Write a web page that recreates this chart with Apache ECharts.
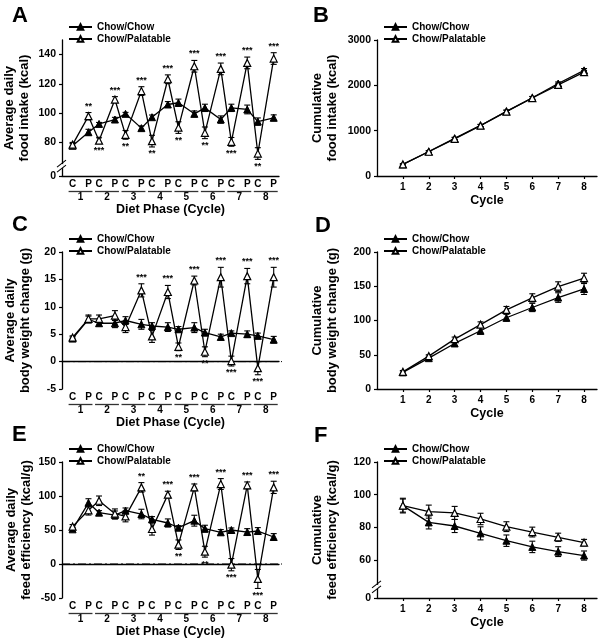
<!DOCTYPE html>
<html>
<head>
<meta charset="utf-8">
<script src="https://cdn.jsdelivr.net/npm/echarts@6/dist/echarts.min.js"></script>
<style>html,body{margin:0;padding:0;background:#fff}#c{width:602px;height:643px}</style>
</head>
<body>
<div id="c"></div>
<script>
// ---------- data ----------
const seriesNames = ['Chow/Chow', 'Chow/Palatable'];
const cycles = [1, 2, 3, 4, 5, 6, 7, 8];
const phaseLabels = ['C','P','C','P','C','P','C','P','C','P','C','P','C','P','C','P'];
const phaseCycles = [1,1,2,2,3,3,4,4,5,5,6,6,7,7,8,8];

// A: average daily food intake (kcal)
const intakeChow    = [77.5, 86.8, 92.5, 95.5, 99.4, 89.6, 97.1, 105.8, 107.0, 99.4, 103.5, 95.5, 103.5, 102.4, 94.1, 96.7];
const intakeChowErr = [1.5, 2.0, 1.0, 1.5, 1.0, 1.5, 1.5, 2.0, 2.5, 2.0, 2.5, 2.5, 2.5, 3.0, 2.5, 2.0];
const intakePal     = [78.3, 97.8, 81.0, 109.2, 85.0, 115.0, 80.7, 123.1, 90.0, 132.0, 86.4, 130.2, 80.2, 134.3, 72.2, 137.3];
const intakePalErr  = [1.5, 2.5, 2.0, 2.0, 3.0, 3.0, 4.0, 3.0, 4.0, 4.0, 4.0, 4.0, 3.0, 4.0, 4.0, 4.0];
const intakeStars   = ['', '**', '***', '***', '**', '***', '**', '***', '**', '***', '**', '***', '***', '***', '**', '***'];

// B: cumulative food intake (kcal)
const cumIntakeChow    = [255, 540, 830, 1115, 1425, 1725, 2040, 2330];
const cumIntakeChowErr = [15, 20, 25, 25, 30, 30, 35, 40];
const cumIntakePal     = [255, 535, 820, 1110, 1420, 1720, 2010, 2290];
const cumIntakePalErr  = [15, 20, 25, 25, 30, 30, 35, 40];

// C: average daily body weight change (g)
const bwChow    = [4.2, 7.7, 7.0, 7.0, 7.5, 6.8, 6.5, 6.3, 5.9, 6.2, 5.3, 4.5, 5.2, 5.0, 4.7, 4.0];
const bwChowErr = [0.3, 0.6, 0.5, 0.8, 0.7, 0.9, 0.6, 0.8, 0.5, 0.9, 0.6, 0.5, 0.4, 0.6, 0.5, 0.6];
const bwPal     = [4.4, 7.8, 7.8, 8.4, 6.3, 13.0, 4.6, 12.7, 2.7, 14.8, 1.8, 15.4, 0.1, 15.6, -1.2, 15.4];
const bwPalErr  = [0.3, 0.7, 0.7, 0.9, 1.0, 1.2, 1.1, 1.2, 0.7, 0.8, 0.9, 1.8, 0.9, 1.4, 1.2, 1.8];
const bwStars   = ['', '', '', '', '', '***', '', '***', '**', '***', '**', '***', '***', '***', '***', '***'];

// D: cumulative body weight change (g)
const cumBwChow    = [24.3, 45.0, 66.5, 85.0, 104.0, 119.0, 133.5, 146.0];
const cumBwChowErr = [2, 3, 4, 5, 5, 6, 7, 8];
const cumBwPal     = [25.0, 48.0, 72.8, 94.0, 115.5, 133.0, 149.5, 162.0];
const cumBwPalErr  = [2, 2, 3, 4, 5, 6, 7, 7];

// E: average daily feed efficiency (kcal/g)
const feChow    = [51, 90, 75.5, 72, 78.4, 73.5, 65.7, 60.3, 53.4, 63.7, 52, 46.6, 50, 47, 48.5, 39.7];
const feChowErr = [3, 6, 3, 6, 4, 7, 4, 6, 3, 8, 5, 4, 3, 5, 5, 5];
const fePal     = [55, 79, 93, 74, 70, 112.7, 51.5, 102, 28.4, 112.7, 18.1, 117.6, -1, 115.7, -22, 112.7];
const fePalErr  = [3, 7, 7, 7, 8, 7, 9, 5, 7, 5, 8, 8, 9, 5, 14, 9];
const feStars   = ['', '', '', '', '', '**', '', '***', '**', '***', '**', '***', '***', '***', '***', '***'];

// F: cumulative feed efficiency (kcal/g)
const cumFeChow    = [93.3, 83.0, 80.8, 76.3, 71.8, 68.0, 65.1, 62.7];
const cumFeChowErr = [4.5, 4, 4, 4, 3.5, 3.5, 3, 2.8];
const cumFePal     = [93.3, 89.6, 88.8, 85.1, 80.4, 77.1, 73.9, 70.6];
const cumFePalErr  = [4, 4, 4, 3.5, 3, 3, 2.5, 2];

// tick labels
const yTicksA = [80, 100, 120, 140];
const yTicksF = [60, 80, 100, 120];

// ---------- layout / style ----------
const FONT = '"Liberation Sans", Arial, Helvetica, sans-serif';
const BLACK = '#000';
const PH_OFF = 0.3;
const phaseX = phaseCycles.map((c, i) => c + (phaseLabels[i] === 'C' ? -PH_OFF : PH_OFF));

const A_MIN = 56.8, F_MIN = 36.7;
const grids = [
  {left: 62,  top: 40,  width: 217, height: 136},
  {left: 377, top: 40,  width: 220, height: 136},
  {left: 62,  top: 252, width: 217, height: 137},
  {left: 377, top: 252, width: 220, height: 137},
  {left: 62,  top: 462, width: 217, height: 136},
  {left: 377, top: 462, width: 220, height: 136}
];
const yNames = [
  'Average daily\nfood intake (kcal)',
  'Cumulative\nfood intake (kcal)',
  'Average daily\nbody weight change (g)',
  'Cumulative\nbody weight change (g)',
  'Average daily\nfeed efficiency (kcal/g)',
  'Cumulative\nfeed efficiency (kcal/g)'
];
const yCfg = [
  {min: A_MIN, max: 150, custom: [A_MIN].concat(yTicksA)},
  {min: 0, max: 3000, interval: 1000},
  {min: -5, max: 20, interval: 5},
  {min: 0, max: 200, interval: 50},
  {min: -50, max: 150, interval: 50},
  {min: F_MIN, max: 120, custom: [F_MIN].concat(yTicksF)}
];
const yGap = [30, 37, 29, 37, 28, 37];

const axisLine = {show: true, lineStyle: {color: BLACK, width: 1.3}};
const tickFont = {fontFamily: FONT, fontWeight: 'bold', fontSize: 10.5, color: BLACK};

const yAxis = yCfg.map((c, i) => {
  const ax = {
    type: 'value', gridIndex: i, min: c.min, max: c.max,
    axisLine: axisLine,
    splitLine: {show: false},
    axisTick: {show: true, inside: false, length: 3, lineStyle: {color: BLACK, width: 1.2}},
    axisLabel: Object.assign({margin: 6, formatter: v => String(Math.round(v))}, tickFont),
    name: yNames[i], nameLocation: 'middle', nameGap: yGap[i],
    nameTextStyle: {fontFamily: FONT, fontWeight: 'bold', fontSize: 13, color: BLACK, lineHeight: 15}
  };
  if (c.interval) ax.interval = c.interval;
  if (c.custom) {
    ax.axisLabel.customValues = c.custom;
    ax.axisLabel.formatter = v => (v < c.custom[1] ? '0' : String(Math.round(v)));
    ax.axisTick.customValues = c.custom;
  }
  return ax;
});

const xAxis = [];
grids.forEach((g, i) => {
  const left = i % 2 === 0;
  if (left) {
    xAxis.push({
      type: 'value', gridIndex: i, min: 0.3, max: 8.5, position: 'bottom',
      axisLine: axisLine, splitLine: {show: false}, axisTick: {show: false},
      axisLabel: Object.assign({margin: 3, customValues: phaseX,
        formatter: v => phaseLabels[phaseX.findIndex(p => Math.abs(p - v) < 1e-6)] || ''}, tickFont, {fontSize: 10}),
      name: 'Diet Phase (Cycle)', nameLocation: 'middle', nameGap: 27,
      nameTextStyle: {fontFamily: FONT, fontWeight: 'bold', fontSize: 12.5, color: BLACK}
    });
  } else {
    xAxis.push({
      type: 'value', gridIndex: i, min: 0, max: 8.5, position: 'bottom',
      axisLine: axisLine, splitLine: {show: false},
      axisTick: {show: true, length: 3, customValues: cycles, lineStyle: {color: BLACK, width: 1.2}},
      axisLabel: Object.assign({margin: 6, customValues: cycles}, tickFont, {fontSize: 10}),
      name: 'Cycle', nameLocation: 'middle', nameGap: 18,
      nameTextStyle: {fontFamily: FONT, fontWeight: 'bold', fontSize: 12.5, color: BLACK}
    });
  }
});
// cycle-number axes for left panels (indices 6,7,8)
[0, 2, 4].forEach(gi => {
  xAxis.push({
    type: 'value', gridIndex: gi, min: 0.3, max: 8.5, position: 'bottom',
    axisLine: {show: false}, axisTick: {show: false}, splitLine: {show: false},
    axisLabel: Object.assign({margin: 16, customValues: cycles}, tickFont, {fontSize: 10})
  });
});

// ---------- series helpers ----------
function lineSeries(name, gi, xs, ys, open) {
  return {
    type: 'line', name: name, xAxisIndex: gi, yAxisIndex: gi,
    data: xs.map((x, k) => [x, ys[k]]),
    symbol: 'triangle', symbolSize: 7, z: 4,
    lineStyle: {color: BLACK, width: 1.3},
    itemStyle: open ? {color: '#fff', borderColor: BLACK, borderWidth: 1.2} : {color: BLACK, borderColor: BLACK, borderWidth: 1},
    emphasis: {disabled: true}, animation: false
  };
}
function errSeries(gi, xs, ys, es) {
  return {
    type: 'custom', xAxisIndex: gi, yAxisIndex: gi, z: 3, silent: true, animation: false,
    data: xs.map((x, k) => [x, ys[k], es[k]]),
    encode: {x: 0, y: 1},
    renderItem: (params, api) => {
      const x = api.value(0), y = api.value(1), e = api.value(2);
      const t = api.coord([x, y + e]), b = api.coord([x, y - e]);
      const w = 3;
      const st = {stroke: BLACK, lineWidth: 1.1};
      return {type: 'group', children: [
        {type: 'line', shape: {x1: t[0], y1: t[1], x2: b[0], y2: b[1]}, style: st},
        {type: 'line', shape: {x1: t[0] - w, y1: t[1], x2: t[0] + w, y2: t[1]}, style: st},
        {type: 'line', shape: {x1: b[0] - w, y1: b[1], x2: b[0] + w, y2: b[1]}, style: st}
      ]};
    }
  };
}
function starSeries(gi, xs, ys, es, stars) {
  return {
    type: 'custom', xAxisIndex: gi, yAxisIndex: gi, z: 5, silent: true, animation: false,
    data: xs.map((x, k) => [x, ys[k], es[k]]),
    encode: {x: 0, y: 1},
    renderItem: (params, api) => {
      const i = params.dataIndex;
      const s = stars[i];
      if (!s) return null;
      const x = api.value(0), y = api.value(1), e = api.value(2);
      const above = phaseLabels[i] === 'P';
      const p = api.coord([x, above ? y + e : y - e]);
      return {type: 'text', x: p[0], y: above ? p[1] - 2 : p[1] + 7,
        style: {text: s, fontFamily: FONT, fontWeight: 'bold', fontSize: 9, fill: BLACK,
          align: 'center', verticalAlign: above ? 'bottom' : 'middle'}};
    }
  };
}
function underlineSeries(gi, xi) {
  return {
    type: 'custom', xAxisIndex: xi, yAxisIndex: gi, z: 5, silent: true, animation: false, clip: false,
    data: cycles.map(c => [c, yCfg[gi].min]),
    encode: {x: 0, y: 1},
    renderItem: (params, api) => {
      const c = api.value(0);
      const l = api.coord([c - PH_OFF, api.value(1)]);
      const r = api.coord([c + PH_OFF, api.value(1)]);
      const y = l[1] + 15.5;
      return {type: 'line', shape: {x1: l[0] - 4, y1: y, x2: r[0] + 4, y2: y}, style: {stroke: '#333', lineWidth: 1.3}};
    }
  };
}
function breakSeries(gi, xMin, yVal) {
  return {
    type: 'custom', xAxisIndex: gi, yAxisIndex: gi, z: 6, silent: true, animation: false, clip: false,
    data: [[xMin, yVal]], encode: {x: 0, y: 1},
    renderItem: (params, api) => {
      const p = api.coord([api.value(0), api.value(1)]);
      const st = {stroke: BLACK, lineWidth: 1.1};
      return {type: 'group', children: [
        {type: 'rect', shape: {x: p[0] - 1.5, y: p[1] - 2, width: 3, height: 4}, style: {fill: '#fff'}},
        {type: 'line', shape: {x1: p[0] - 5, y1: p[1] + 1, x2: p[0] + 4, y2: p[1] - 6}, style: st},
        {type: 'line', shape: {x1: p[0] - 5, y1: p[1] + 6, x2: p[0] + 4, y2: p[1] - 1}, style: st}
      ]};
    }
  };
}
function zeroLine(gi) {
  return {
    type: 'custom', xAxisIndex: gi, yAxisIndex: gi, z: 2, silent: true, animation: false,
    data: [[0.3, 0]], encode: {x: 0, y: 1},
    renderItem: (params, api) => {
      const cs = params.coordSys;
      const p = api.coord([api.value(0), api.value(1)]);
      return {type: 'line', shape: {x1: cs.x, y1: p[1], x2: cs.x + cs.width + 3, y2: p[1]},
        style: {stroke: BLACK, lineWidth: 1, lineDash: [8, 3, 2, 3]}};
    }
  };
}

const series = [];
function panel(gi, xs, chow, chowErr, pal, palErr, stars) {
  series.push(errSeries(gi, xs, chow, chowErr));
  series.push(errSeries(gi, xs, pal, palErr));
  series.push(lineSeries(seriesNames[0], gi, xs, chow, false));
  series.push(lineSeries(seriesNames[1], gi, xs, pal, true));
  if (stars) series.push(starSeries(gi, xs, pal, palErr, stars));
}
panel(0, phaseX, intakeChow, intakeChowErr, intakePal, intakePalErr, intakeStars);
panel(1, cycles, cumIntakeChow, cumIntakeChowErr, cumIntakePal, cumIntakePalErr, null);
panel(2, phaseX, bwChow, bwChowErr, bwPal, bwPalErr, bwStars);
panel(3, cycles, cumBwChow, cumBwChowErr, cumBwPal, cumBwPalErr, null);
panel(4, phaseX, feChow, feChowErr, fePal, fePalErr, feStars);
panel(5, cycles, cumFeChow, cumFeChowErr, cumFePal, cumFePalErr, null);
series.push(zeroLine(2));
series.push(zeroLine(4));
series.push(underlineSeries(0, 6));
series.push(underlineSeries(2, 7));
series.push(underlineSeries(4, 8));
series.push(breakSeries(0, 0.3, 63.6));
series.push(breakSeries(5, 0, 43.5));

const legend = grids.map(g => ({
  left: g.left + 6, top: g.top - 19, orient: 'vertical',
  itemWidth: 23, itemHeight: 7, itemGap: 0, padding: 0,
  selectedMode: false,
  textStyle: {fontFamily: FONT, fontWeight: 'bold', fontSize: 10, color: BLACK, lineHeight: 12},
  data: seriesNames
}));

const letters = [['A', 12, 5], ['B', 313, 5], ['C', 12, 214], ['D', 315, 215], ['E', 12, 424], ['F', 314, 425]];
const graphic = letters.map(l => ({
  type: 'text', left: l[1], top: l[2],
  style: {text: l[0], fontFamily: FONT, fontWeight: 'bold', fontSize: 22, fill: BLACK}
}));

const chart = echarts.init(document.getElementById('c'), null, {renderer: 'canvas'});
chart.setOption({
  animation: false,
  backgroundColor: '#fff',
  grid: grids.map(g => Object.assign({containLabel: false}, g)),
  xAxis: xAxis, yAxis: yAxis, legend: legend, series: series, graphic: graphic
});
</script>
</body>
</html>
